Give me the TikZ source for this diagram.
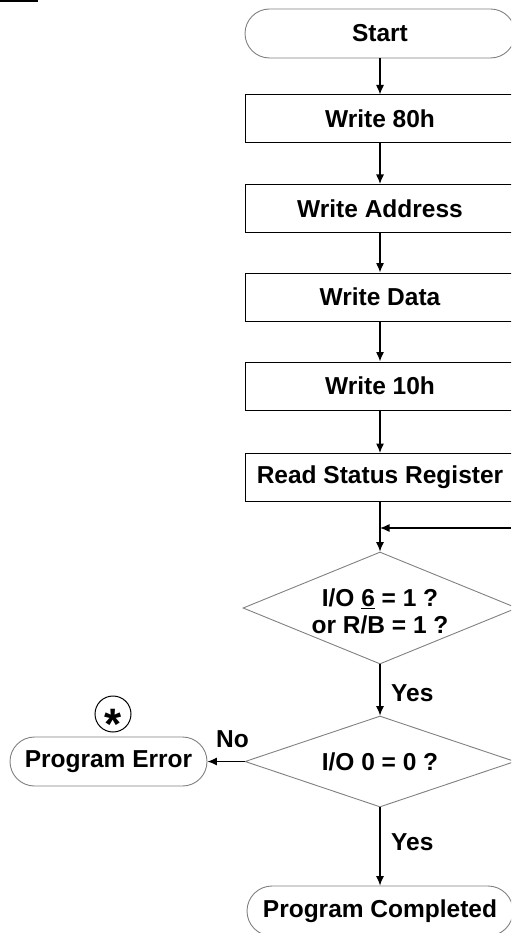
\documentclass[tikz,border=0pt]{standalone}
\usepackage{fontspec}
\setmainfont{Liberation Sans}
\usetikzlibrary{arrows.meta,shapes.geometric,calc}
\definecolor{edgegray}{gray}{0.5}
\begin{document}
\begin{tikzpicture}[x=1pt,y=-1pt,
  txt/.style={font=\fontsize{24.5}{27}\selectfont\bfseries, inner sep=0},
  procbox/.style={draw=black, line width=1pt, minimum width=270pt, minimum height=48pt, inner sep=0, txt},
  term/.style={draw=edgegray, line width=0.9pt, rounded corners=24.5pt, minimum height=49pt, inner sep=0, txt},
  decide/.style={diamond, draw=edgegray, line width=0.9pt, inner sep=0},
  flow/.style={-{Latex[length=9.5pt,width=8pt]}, line width=1.1pt}]
\useasboundingbox (0,0) rectangle (511,933);
\clip (0,0) rectangle (511,933);
\fill[black] (0,0) rectangle (38,2.5);
% process column
\node[term, minimum width=270pt] (start) at (380,33.5) {Start};
\node[procbox] (w80) at (380,119) {Write 80h};
\node[procbox] (addr) at (380,208.5) {Write Address};
\node[procbox] (data) at (380,297) {Write Data};
\node[procbox] (w10) at (380,386) {Write 10h};
\node[procbox] (rsr) at (380,477.5) {Read Status Register};
\node[decide, minimum width=274pt, minimum height=112pt] (d1) at (380,608) {};
\node[txt, align=center] (d1t) at (380,611) {I/O \underline{6} = 1 ?\\or R/B = 1 ?};
\node[decide, minimum width=270pt, minimum height=91pt] (d2) at (380,761.5) {};
\node[txt] (d2t) at (380,761.5) {I/O 0 = 0 ?};
\node[term, minimum width=197pt] (perr) at (108.5,761.5) {Program Error};
\node[term, minimum width=266pt, minimum height=50pt, rounded corners=25pt] (done) at (380,911) {Program Completed};
\node[circle, draw=black, line width=1pt, minimum size=36pt, inner sep=0] (starc) at (113,714) {};
\node[font=\fontsize{44}{44}\selectfont\bfseries, inner sep=0] (ast) at (113,724) {*};
% labels
\node[txt, anchor=west] (yes1) at (391,693) {Yes};
\node[txt] (no) at (232.5,739) {No};
\node[txt, anchor=west] (yes2) at (391,842) {Yes};
% connectors
\draw[flow] (start) -- (w80);
\draw[flow] (w80) -- (addr);
\draw[flow] (addr) -- (data);
\draw[flow] (data) -- (w10);
\draw[flow] (w10) -- (rsr);
\draw[flow] (rsr.south) -- (d1.north);
\coordinate (fb) at (511,528);
\draw[flow] (fb) -- (fb -| rsr.south);
\draw[flow] (d1.south) -- (d2.north);
\draw[flow] (d2.west) -- (perr.east);
\draw[flow] (d2.south) -- (done.north);
\end{tikzpicture}
\end{document}
